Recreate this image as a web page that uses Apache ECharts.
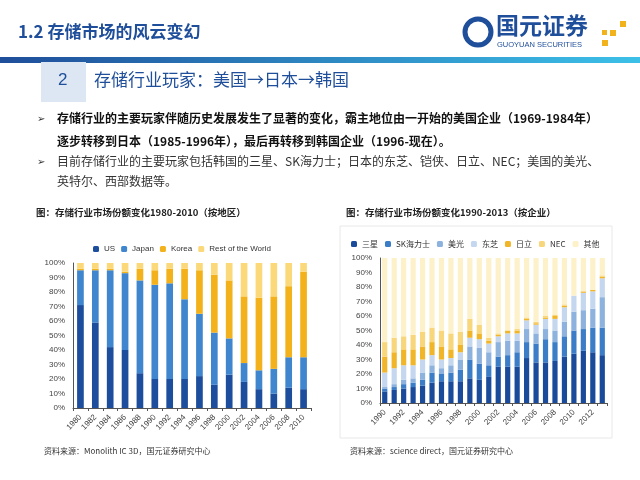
<!DOCTYPE html>
<html><head><meta charset="utf-8">
<script src="https://cdn.jsdelivr.net/npm/echarts@6/dist/echarts.min.js"></script>
<style>html,body{margin:0;padding:0;background:#fff}#c{width:640px;height:480px}</style>
</head><body><div id="c"></div>
<script>
const leftYears=['1980','1982','1984','1986','1988','1990','1992','1994','1996','1998','2000','2002','2004','2006','2008','2010'];
const usCum=[71,59,42,40,24,20,20,20,22,16,23,18,13,10,14,13];
const japanCum=[95,95,95,93,88,85,86,75,65,52,48,31,26,27,35,35];
const koreaCum=[96,96,96,94,96,95,96,96,95,92,88,77,76,77,84,94];
const rightYears=['1990','1991','1992','1993','1994','1995','1996','1997','1998','1999','2000','2001','2002','2003','2004','2005','2006','2007','2008','2009','2010','2011','2012','2013'];
const samsungCum=[8,9,10,11,12,14,15,15,15,17,16,18,25,25,25,31,28,28,29,32,34,36,35,33];
const skCum=[10,11,13,14,16,21,20,21,23,30,27,26,32,33,35,42,41,44,42,46,50,51,52,52];
const micronCum=[11,13,16,17,21,26,24,26,30,39,38,35,42,43,43,51,48,51,50,56,63,64,65,73];
const toshibaCum=[21,24,26,26,30,33,30,31,35,45,44,41,46,48,48,57,54,58,58,66,74,76,77,86];
const hitachiCum=[32,35,37,37,39,42,39,37,40,50,48,43,47,50,50,58,55,59,60,67,74,77,78,87];
const necCum=[42,45,46,47,49,52,50,48,49,58,54,45,48,50,51,59,56,60,61,68,74,77,78,88];

const diff=(a,b)=>a.map((v,i)=>+(v-(b?b[i]:0)).toFixed(1));
const hundred=a=>a.map(v=>100-v);
const F='"Noto Sans CJK SC","Noto Sans",sans-serif';
const chart=echarts.init(document.getElementById('c'));
function bar(name,data,color,idx){return {name,type:'bar',stack:'s'+idx,data,xAxisIndex:idx,yAxisIndex:idx,itemStyle:{color},barWidth:idx?'55%':'45%'};}
const yAx=(i)=>({gridIndex:i,type:'value',min:0,max:100,interval:10,axisLabel:{formatter:'{value}%',fontSize:8,color:'#444',fontFamily:'Arial'},splitLine:{show:false},axisLine:{show:true,lineStyle:{color:'#555'}},axisTick:{show:false}});
const xAx=(i,d,interval)=>({gridIndex:i,type:'category',data:d,axisLabel:{rotate:45,fontSize:8,color:'#444',fontFamily:'Arial',interval:interval},axisTick:{show:true,interval:0,length:3},axisLine:{lineStyle:{color:'#555'}}});
chart.setOption({
 animation:false,
 textStyle:{fontFamily:F},
 grid:[{left:73,top:263,width:238,height:145},{left:380,top:258,width:227,height:145}],
 xAxis:[xAx(0,leftYears,0),xAx(1,rightYears,1)],
 yAxis:[yAx(0),yAx(1)],
 legend:[
  {data:['US','Japan','Korea','Rest of the World'],left:88,top:240,itemWidth:6,itemHeight:6,itemGap:6,textStyle:{fontSize:8,color:'#333',fontFamily:'Arial'}},
  {data:['三星','SK海力士','美光','东芝','日立','NEC','其他'],left:346,top:235,itemWidth:6,itemHeight:6,itemGap:7,textStyle:{fontSize:8,color:'#333'}}
 ],
 series:[
  bar('US',usCum,'#1c4e9d',0),
  bar('Japan',diff(japanCum,usCum),'#3f86cf',0),
  bar('Korea',diff(koreaCum,japanCum),'#f3b21b',0),
  bar('Rest of the World',hundred(koreaCum),'#fbd97a',0),
  bar('三星',samsungCum,'#1a4a9a',1),
  bar('SK海力士',diff(skCum,samsungCum),'#3b7dc6',1),
  bar('美光',diff(micronCum,skCum),'#8db2de',1),
  bar('东芝',diff(toshibaCum,micronCum),'#c4d7ef',1),
  bar('日立',diff(hitachiCum,toshibaCum),'#f1b52a',1),
  bar('NEC',diff(necCum,hitachiCum),'#f8d67c',1),
  bar('其他',hundred(necCum),'#fdf1c9',1)
 ],
 graphic:[
  {type:'text',left:18,top:23,style:{text:'1.2 存储市场的风云变幻',fontSize:17,fontWeight:'bold',fill:'#1f4e9a',fontFamily:F}},
  {type:'rect',shape:{x:0,y:57,width:640,height:6},style:{fill:new echarts.graphic.LinearGradient(0,0,1,0,[{offset:0,color:'#1f4e9a'},{offset:1,color:'#3cc0e8'}])}},
  {type:'circle',shape:{cx:478,cy:32,r:13},style:{fill:'none',stroke:'#1f4e9a',lineWidth:5}},
  {type:'text',left:496,top:14,style:{text:'国元证券',fontSize:23,fontWeight:'bold',fill:'#1f4e9a',fontFamily:F}},
  {type:'text',left:497,top:41,style:{text:'GUOYUAN SECURITIES',fontSize:7.5,fill:'#1f4e9a',fontFamily:'Arial'}},
  {type:'rect',shape:{x:602,y:40,width:6,height:6},style:{fill:'#f2b21b'}},
  {type:'rect',shape:{x:610,y:30,width:6,height:6},style:{fill:'#f2b21b'}},
  {type:'rect',shape:{x:620,y:21,width:6,height:6},style:{fill:'#f2b21b'}},
  {type:'rect',shape:{x:602,y:30,width:5,height:5},style:{fill:'#f2b21b'}},
  {type:'rect',shape:{x:41,y:62,width:45,height:40},style:{fill:'#dde7f3'}},
  {type:'text',left:58,top:72,style:{text:'2',fontSize:17,fill:'#1f4e9a',fontFamily:'Arial'}},
  {type:'text',left:94,top:71,style:{text:'存储行业玩家：美国→日本→韩国',fontSize:17,fill:'#1f4e9a',fontFamily:F}},
  {type:'text',left:37,top:114,style:{text:'➢',fontSize:10,fill:'#333'}},
  {type:'text',left:57,top:112,style:{text:'存储行业的主要玩家伴随历史发展发生了显著的变化，霸主地位由一开始的美国企业（1969-1984年）',fontSize:12,fontWeight:'bold',fill:'#111',fontFamily:F}},
  {type:'text',left:57,top:135,style:{text:'逐步转移到日本（1985-1996年），最后再转移到韩国企业（1996-现在）。',fontSize:12,fontWeight:'bold',fill:'#111',fontFamily:F}},
  {type:'text',left:37,top:157,style:{text:'➢',fontSize:10,fill:'#333'}},
  {type:'text',left:57,top:155,style:{text:'目前存储行业的主要玩家包括韩国的三星、SK海力士；日本的东芝、铠侠、日立、NEC；美国的美光、',fontSize:12,fill:'#333',fontFamily:F}},
  {type:'text',left:57,top:175,style:{text:'英特尔、西部数据等。',fontSize:12,fill:'#333',fontFamily:F}},
  {type:'text',left:36,top:208,style:{text:'图：存储行业市场份额变化1980-2010（按地区）',fontSize:9.5,fontWeight:'bold',fill:'#222',fontFamily:F}},
  {type:'text',left:346,top:208,style:{text:'图：存储行业市场份额变化1990-2013（按企业）',fontSize:9.5,fontWeight:'bold',fill:'#222',fontFamily:F}},
  {type:'rect',shape:{x:340,y:226,width:272,height:212},style:{fill:'none',stroke:'#e8e8e8'}},
  {type:'text',left:44,top:447,style:{text:'资料来源：Monolith IC 3D，国元证券研究中心',fontSize:8,fill:'#333',fontFamily:F}},
  {type:'text',left:350,top:447,style:{text:'资料来源：science direct，国元证券研究中心',fontSize:8,fill:'#333',fontFamily:F}}
 ]
});
</script></body></html>
